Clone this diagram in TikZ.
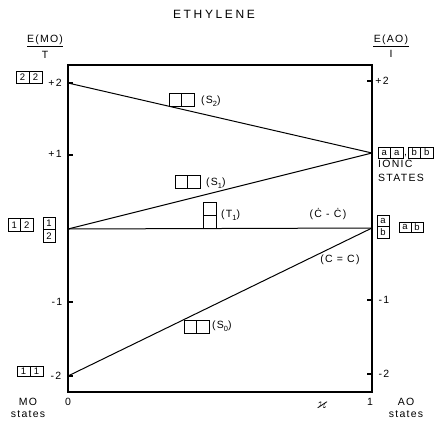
\documentclass[tikz,border=0pt]{standalone}
\usepackage{fontspec}
\usepackage{amssymb}
\setmainfont{Liberation Sans}
\newfontfamily\spacedfont[LetterSpace=22]{Liberation Sans}
\newfontfamily\labfont[LetterSpace=12]{Liberation Sans}
\newcommand{\mysub}[1]{\raisebox{-0.3em}{\fontsize{7.5}{7.5}\selectfont #1}}
\begin{document}
\begin{tikzpicture}[x=1pt,y=-1pt,
  axisline/.style={line width=1.4pt},
  stateline/.style={line width=1pt},
  tickmark/.style={line width=1.4pt},
  cell/.style={draw, line width=0.8pt, inner sep=0pt, minimum width=12.5pt, minimum height=12.5pt, font=\fontsize{9.5}{9.5}\selectfont},
  lbl/.style={font=\labfont\fontsize{10.5}{10.5}\selectfont, inner sep=0pt},
  axlbl/.style={font=\labfont\fontsize{10.5}{10.5}\selectfont, inner sep=0pt}]
\useasboundingbox (0,0) rectangle (434,421);

% frame
\coordinate (TL) at (68,65);
\coordinate (TR) at (372,65);
\coordinate (BL) at (68,392);
\coordinate (BR) at (372,392);
\draw[axisline] (BL) -- (TL) -- (TR) -- (BR) -- cycle;

% state line endpoints
\coordinate (L2) at (68,83);
\coordinate (L0) at (68,229);
\coordinate (Lm2) at (68,376);
\coordinate (R1) at (372,153);
\coordinate (R0) at (372,228);
\draw[stateline] (L2) -- (R1);
\draw[stateline] (L0) -- (R1);
\draw[stateline] (L0) -- (R0);
\draw[stateline] (Lm2) -- (R0);

% ticks
\foreach \yy in {83,155,302,376} {\draw[tickmark] (68,\yy) -- (73,\yy);}
\foreach \yy in {81,300,374} {\draw[tickmark] (367,\yy) -- (372,\yy);}

% title and axis titles
\node[font=\spacedfont\fontsize{12}{12}\selectfont, inner sep=0pt] (title) at (214,14) {ETHYLENE};
\node[axlbl] (emo) at (45,40) {E(MO)};
\draw[line width=0.7pt] (27,46) -- (63,46);
\node[axlbl] (tmo) at (45,55) {T};
\node[axlbl] (eao) at (391,40) {E(AO)};
\draw[line width=0.7pt] (373,46) -- (409,46);
\node[axlbl] (iao) at (391,54) {I};

% left axis labels
\node[axlbl] (lp2) at (55,83) {+2};
\node[axlbl] (lp1) at (55,154) {+1};
\node[axlbl] (lm1) at (57,302) {-1};
\node[axlbl] (lm2) at (56,376) {-2};
% right axis labels
\node[axlbl] (rp2) at (382,81) {+2};
\node[axlbl] (rm1) at (384,300) {-1};
\node[axlbl] (rm2) at (384,374) {-2};

% bottom labels
\node[axlbl] (mo) at (28,402) {MO};
\node[axlbl] (mostates) at (28,414) {states};
\node[axlbl] (zero) at (68,402) {0};
\node[axlbl] (one) at (370,402) {1};
\node[axlbl] (ao) at (406,402) {AO};
\node[axlbl] (aostates) at (406,414) {states};
\node[font=\fontsize{15}{15}\selectfont, inner sep=0pt] (kappa) at (322,405) {$\varkappa$};

% left MO configuration boxes
\node[cell, minimum width=13pt, minimum height=12pt] (a22) at (22.5,77) {2};
\node[cell, minimum width=13pt, minimum height=12pt] (b22) at (35.5,77) {2};
\node[cell, minimum height=13pt] (a12) at (14.25,225) {1};
\node[cell, minimum height=13pt] (b12) at (26.75,225) {2};
\node[cell, minimum width=12pt] (c1) at (49,223.25) {1};
\node[cell, minimum width=12pt] (c2) at (49,235.75) {2};
\node[cell, minimum width=13pt, minimum height=10pt] (a11) at (23.5,371.5) {1};
\node[cell, minimum width=13pt, minimum height=10pt] (b11) at (36.5,371.5) {1};

% state boxes on the diagram
\node[cell, minimum height=13pt] (s2a) at (175.25,99.5) {};
\node[cell, minimum height=13pt] (s2b) at (187.75,99.5) {};
\node[lbl, anchor=west] (s2) at (201,101) {(S\mysub{2})};
\node[cell, minimum height=13pt] (s1a) at (181.25,181.5) {};
\node[cell, minimum height=13pt] (s1b) at (193.75,181.5) {};
\node[lbl, anchor=west] (s1) at (206,183) {(S\mysub{1})};
\node[cell, minimum width=13pt, minimum height=13pt] (t1a) at (209.5,208.5) {};
\node[cell, minimum width=13pt, minimum height=13pt] (t1b) at (209.5,221.5) {};
\node[lbl, anchor=west] (t1) at (221,215) {(T\mysub{1})};
\node[cell, minimum height=13pt] (s0a) at (190.25,326.5) {};
\node[cell, minimum height=13pt] (s0b) at (202.75,326.5) {};
\node[lbl, anchor=west] (s0) at (212,326) {(S\mysub{0})};

\node[lbl] (cc1) at (328,214) {(Ċ - Ċ)};
\node[lbl] (cc2) at (340,260) {(C = C)};

% right AO configuration boxes
\node[cell, minimum height=11pt] (aa1) at (384.25,152.5) {a};
\node[cell, minimum height=11pt] (aa2) at (396.75,152.5) {a};
\node[lbl] (comma) at (405.5,156) {,};
\node[cell, minimum height=11pt] (bb1) at (414.25,152.5) {b};
\node[cell, minimum height=11pt] (bb2) at (426.75,152.5) {b};
\node[lbl, anchor=west] (ionic) at (378,164) {IONIC};
\node[lbl, anchor=west] (ionstates) at (378,178) {STATES};
\node[cell, minimum width=12pt, minimum height=11.5pt] (va) at (383,221) {a};
\node[cell, minimum width=12pt, minimum height=11.5pt] (vb) at (383,232.5) {b};
\node[cell, minimum width=12pt, minimum height=10pt] (ha) at (405,227) {a};
\node[cell, minimum width=12pt, minimum height=10pt] (hb) at (417,227) {b};
\end{tikzpicture}
\end{document}
